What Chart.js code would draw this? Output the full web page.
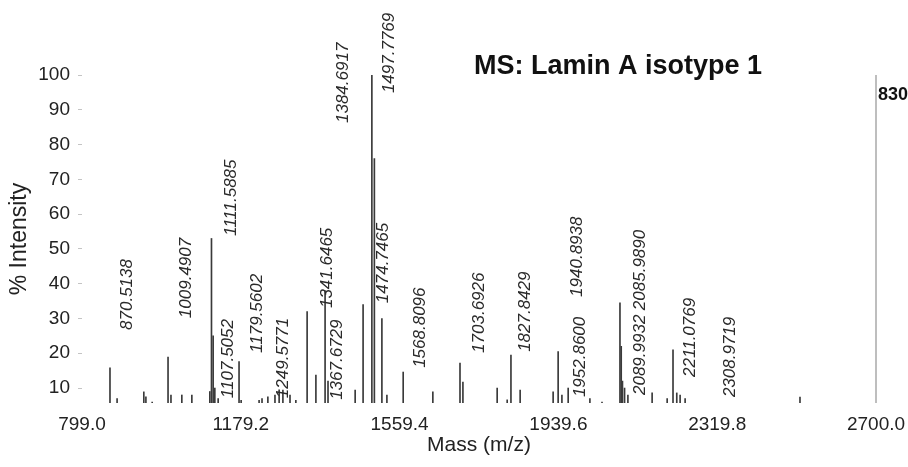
<!DOCTYPE html>
<html>
<head>
<meta charset="utf-8">
<script src="https://cdn.jsdelivr.net/npm/chart.js@4.4.0/dist/chart.umd.min.js"></script>
<style>
  html, body { margin: 0; padding: 0; background: #fff; }
  #wrap { width: 908px; height: 467px; position: relative; }
</style>
</head>
<body>
<div id="wrap"><canvas id="msChart"></canvas></div>
<script>
// MS spectrum - Lamin A isotype 1

// peaks: m/z and % intensity
const peakMass = [866, 883, 947, 952, 967, 1005, 1012, 1038, 1062,
    1105, 1109, 1113, 1117, 1125, 1175, 1180, 1223, 1230, 1244, 1261, 1271, 1280, 1297, 1311,
    1338, 1359, 1381, 1388, 1453, 1472, 1493, 1499, 1517, 1529, 1568,
    1639, 1704, 1711, 1793, 1817, 1826, 1848, 1927, 1939, 1948, 1963, 2015, 2044,
    2087, 2090, 2093, 2098, 2106, 2164, 2200, 2214, 2223, 2231, 2243, 2518];
const peakIntensity = [15.8, 7, 8.9, 7.5, 6, 18.9, 8, 8, 8,
    9, 53, 25, 10, 7, 17.6, 6.5, 6.5, 7, 7.5, 8, 9.5, 9.4, 8, 6.5,
    32, 13.7, 38, 12, 9.4, 34, 100, 76, 30, 8, 14.6,
    8.9, 17.2, 11.7, 10, 6.6, 19.5, 9.4, 8.9, 20.5, 8, 10, 7, 6,
    34.5, 22, 12, 10, 8, 8.6, 7, 21, 8.6, 8, 7, 7.4];

// peak annotations: text, anchor m/z, anchor intensity (bottom of the rotated text)
const labelText = ['870.5138', '1009.4907', '1111.5885', '1107.5052', '1179.5602', '1249.5771',
    '1341.6465', '1367.6729', '1384.6917', '1497.7769', '1474.7465', '1568.8096',
    '1703.6926', '1827.8429', '1940.8938', '1952.8600', '2085.9890', '2089.9932',
    '2211.0769', '2308.9719'];
const labelMass = [907, 1048, 1156, 1148.5, 1218, 1280,
    1385.5, 1409.5, 1424, 1534, 1520, 1608,
    1749, 1859.5, 1984, 1991, 2135, 2135,
    2254.6, 2350];
const labelLevel = [26.7, 30.1, 53.7, 7.1, 20.1, 7.1,
    33, 6.6, 86.2, 94.8, 34.4, 15.8,
    20.1, 20.4, 36.2, 7.4, 32.4, 8,
    13.2, 7.4];

const xTicks = [799.0, 1179.2, 1559.4, 1939.6, 2319.8, 2700.0];
const yTicks = [10, 20, 30, 40, 50, 60, 70, 80, 90, 100];

const FONT = '"Liberation Sans", Arial, Helvetica, sans-serif';

// 峰标注、标题、右边线
const decorPlugin = {
    id: 'decor',
    afterDatasetsDraw(chart) {
        const ctx = chart.ctx;
        const xs = chart.scales.x;
        const ys = chart.scales.y;

        ctx.save();
        // right border line
        const rx = xs.getPixelForValue(2700);
        ctx.strokeStyle = '#a8a8a8';
        ctx.lineWidth = 1.5;
        ctx.beginPath();
        ctx.moveTo(rx, ys.getPixelForValue(100));
        ctx.lineTo(rx, ys.bottom);
        ctx.stroke();

        // peak labels
        ctx.fillStyle = '#2a2a2a';
        ctx.font = 'italic 17px ' + FONT;
        ctx.textAlign = 'left';
        ctx.textBaseline = 'middle';
        labelText.forEach(function(t, i) {
            const x = xs.getPixelForValue(labelMass[i]);
            const y = ys.getPixelForValue(labelLevel[i]);
            ctx.save();
            ctx.translate(x, y);
            ctx.rotate(-Math.PI / 2);
            ctx.fillText(t, 0, 0);
            ctx.restore();
        });

        // title
        ctx.fillStyle = '#111';
        ctx.font = 'bold 27px ' + FONT;
        ctx.textAlign = 'center';
        ctx.textBaseline = 'alphabetic';
        ctx.fillText('MS: Lamin A isotype 1', 618, 74);

        // max count
        ctx.font = 'bold 18px ' + FONT;
        ctx.textAlign = 'left';
        ctx.fillText('830', rx + 2, 100);
        ctx.restore();
    }
};

new Chart(document.getElementById('msChart'), {
    type: 'bar',
    data: {
        datasets: [{
            data: peakMass.map((m, i) => ({ x: m, y: peakIntensity[i] })),
            backgroundColor: '#3a3a3a',
            borderWidth: 0,
            barThickness: 1
        }]
    },
    options: {
        responsive: true,
        maintainAspectRatio: false,
        animation: false,
        layout: { padding: { top: 75, right: 32, left: 0, bottom: 0 } },
        plugins: {
            legend: { display: false },
            tooltip: { enabled: false }
        },
        scales: {
            x: {
                type: 'linear',
                min: 799,
                max: 2700,
                offset: false,
                grid: { display: false },
                border: { display: false },
                afterBuildTicks: function(scale) {
                    scale.ticks = xTicks.map(v => ({ value: v }));
                },
                afterFit: function(scale) { scale.height = 64; },
                ticks: {
                    autoSkip: false,
                    maxRotation: 0,
                    padding: 2,
                    color: '#222',
                    font: { family: FONT, size: 19 },
                    callback: v => v.toFixed(1)
                },
                title: {
                    display: true,
                    text: 'Mass (m/z)',
                    color: '#222',
                    font: { family: FONT, size: 21 },
                    padding: { top: 0, bottom: 9 }
                }
            },
            y: {
                min: 5.7,
                max: 100,
                grid: {
                    display: true,
                    drawOnChartArea: false,
                    drawTicks: true,
                    tickLength: 4,
                    color: '#c4c4c4'
                },
                border: { display: false },
                afterBuildTicks: function(scale) {
                    scale.ticks = yTicks.map(v => ({ value: v }));
                },
                afterFit: function(scale) { scale.width = 82; },
                ticks: {
                    padding: 8,
                    color: '#222',
                    font: { family: FONT, size: 19 }
                },
                title: {
                    display: true,
                    text: '% Intensity',
                    color: '#222',
                    font: { family: FONT, size: 23 },
                    padding: { top: 6, bottom: 0 }
                }
            }
        }
    },
    plugins: [decorPlugin]
});
</script>
</body>
</html>
